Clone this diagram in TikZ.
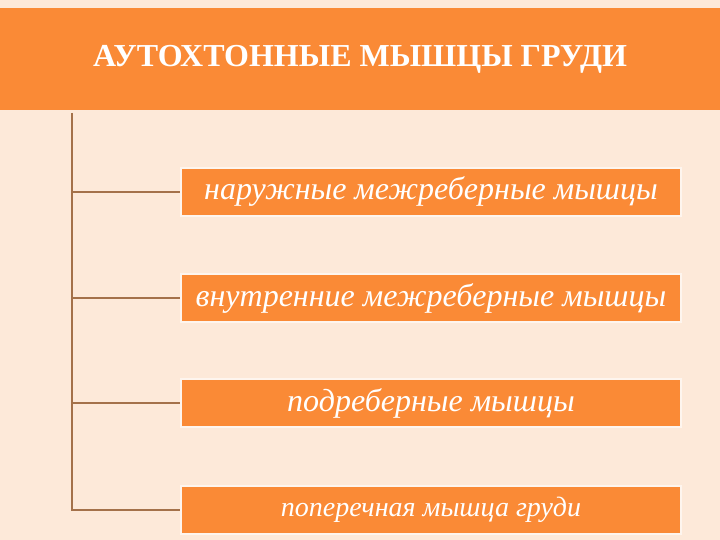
\documentclass[tikz,border=0pt]{standalone}
\usepackage{fontspec}
\setmainfont{Liberation Serif}
\usetikzlibrary{positioning}
\definecolor{fon}{HTML}{FDE9D9}
\definecolor{oranj}{HTML}{FA8A36}
\definecolor{liniya}{HTML}{A4714A}
\begin{document}
\begin{tikzpicture}[x=1pt,y=-1pt]
            \tikzset{
                zag/.style={fill=oranj,minimum width=720pt,minimum height=102pt,inner sep=0pt,text=white,font=\fontsize{32}{36}\selectfont\bfseries},
                pole/.style={fill=oranj,draw=white!55!fon,line width=2pt,minimum width=500pt,minimum height=48pt,inner sep=0pt,text=white,font=\fontsize{32}{36}\selectfont\itshape},
                vetka/.style={liniya,line width=2pt},}
            \fill [fon](0,0) rectangle (720,540);
            \node [zag] (title) at (360,59) {АУТОХТОННЫЕ МЫШЦЫ ГРУДИ};
            \node [pole] (b1) at (431,192) {наружные межреберные мышцы};
            \node [pole] (b2) at (431,298) {внутренние межреберные мышцы};
            \node [pole] (b3) at (431,403) {подреберные мышцы};
            \node [pole,font=\fontsize{28}{32}\selectfont\itshape] (b4) at (431,510) {поперечная мышца груди};
            \coordinate (stvol) at (72,113);
            \draw [vetka](stvol) -- (stvol |- b4.west) -- (b4.west);
            \foreach \b in {b1,b2,b3}
                \draw [vetka](stvol |- \b.west) -- (\b.west);
        \end{tikzpicture}
\end{document}
